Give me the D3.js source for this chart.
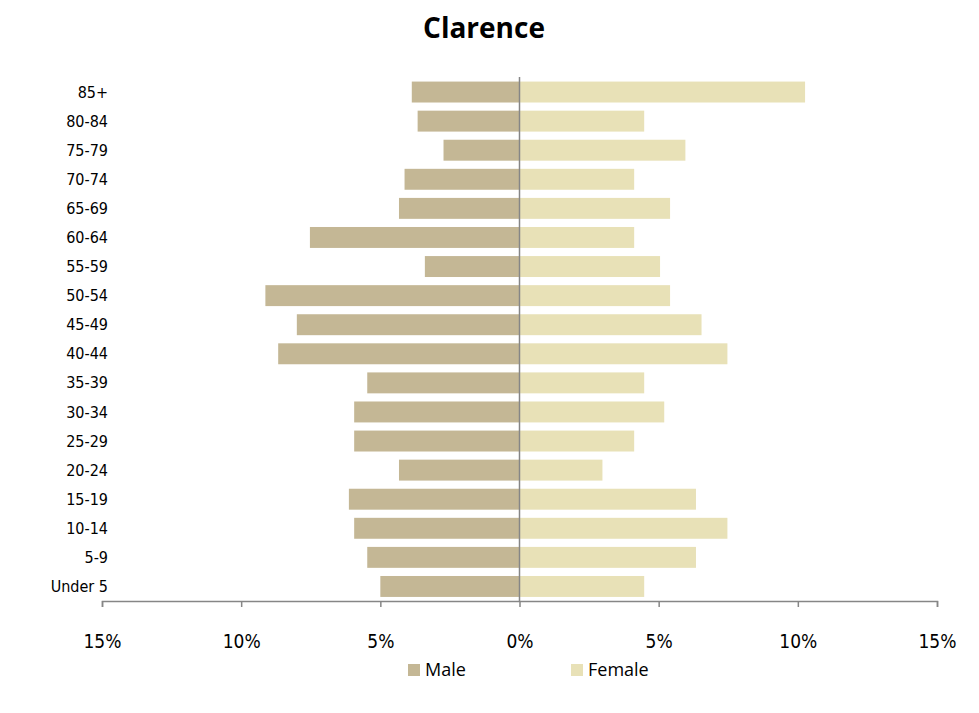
<!DOCTYPE html>
<html><head><meta charset="utf-8">
<script src="https://cdn.jsdelivr.net/npm/d3@7"></script>
<style>body{margin:0;background:#fff}svg{display:block}</style>
</head><body>
<svg id="c" width="979" height="713"></svg>
<script>
const categories = ["85+","80-84","75-79","70-74","65-69","60-64","55-59","50-54","45-49","40-44","35-39","30-34","25-29","20-24","15-19","10-14","5-9","Under 5"];
const male =   [3.87,3.66,2.73,4.13,4.33,7.53,3.40,9.13,8.00,8.67,5.47,5.94,5.94,4.33,6.13,5.94,5.47,5.00];
const female = [10.26,4.48,5.96,4.12,5.41,4.12,5.05,5.41,6.54,7.47,4.48,5.20,4.12,2.98,6.34,7.47,6.34,4.48];
const tickValues = [-15,-10,-5,0,5,10,15];
const seriesNames = ["Male","Female"];
const colors = {Male:"#C4B795", Female:"#E8E1B7"};
const font = "'Liberation Sans Narrow','DejaVu Sans Condensed',Carlito,Calibri,sans-serif";

const svg = d3.select("#c");
const x = d3.scaleLinear().domain([-15,15]).range([102,937]);
const y = d3.scaleBand().domain(categories).range([77.5,601]).paddingInner(0.28).paddingOuter(0.14);

svg.append("text").attr("x",484).attr("y",38).attr("text-anchor","middle")
  .attr("font-family","'Open Sans','Noto Sans',sans-serif").attr("font-weight","bold").attr("font-size",28).attr("fill","#000").text("Clarence");

const g = svg.append("g");
g.selectAll("rect.m").data(categories).enter().append("rect").attr("class","m")
  .attr("x",(d,i)=>x(-male[i])).attr("y",d=>y(d)).attr("width",(d,i)=>x(0)-x(-male[i])).attr("height",y.bandwidth())
  .attr("fill",colors.Male);
g.selectAll("rect.f").data(categories).enter().append("rect").attr("class","f")
  .attr("x",x(0)).attr("y",d=>y(d)).attr("width",(d,i)=>x(female[i])-x(0)).attr("height",y.bandwidth())
  .attr("fill",colors.Female);

// zero line
svg.append("line").attr("x1",x(0)).attr("x2",x(0)).attr("y1",77).attr("y2",601)
  .attr("stroke","#868686").attr("stroke-width",1.5);

// x axis
const xa = svg.append("g").attr("transform","translate(0,601)")
  .call(d3.axisBottom(x).tickValues(tickValues).tickSize(6).tickPadding(28).tickFormat(d=>Math.abs(d)+"%"));
xa.select(".domain").attr("stroke","#868686").attr("stroke-width",1.5);
xa.selectAll(".tick line").attr("stroke","#868686").attr("stroke-width",1.5);
xa.selectAll("text").attr("font-family",font).attr("font-size",19).attr("fill","#000");

// y labels
svg.append("g").selectAll("text").data(categories).enter().append("text")
  .attr("x",108).attr("y",d=>y(d)+y.bandwidth()/2).attr("dy","0.35em").attr("text-anchor","end")
  .attr("font-family",font).attr("font-size",16).attr("fill","#000").text(d=>d);

// legend
const legX = [408,571];
const leg = svg.append("g");
seriesNames.forEach((s,i)=>{
  leg.append("rect").attr("x",legX[i]).attr("y",664).attr("width",12).attr("height",12).attr("fill",colors[s]);
  leg.append("text").attr("x",legX[i]+17).attr("y",670).attr("dy","0.35em").attr("font-family","'Open Sans','Noto Sans',sans-serif")
    .attr("font-size",18).attr("fill","#000").text(s);
});
</script>
</body></html>
